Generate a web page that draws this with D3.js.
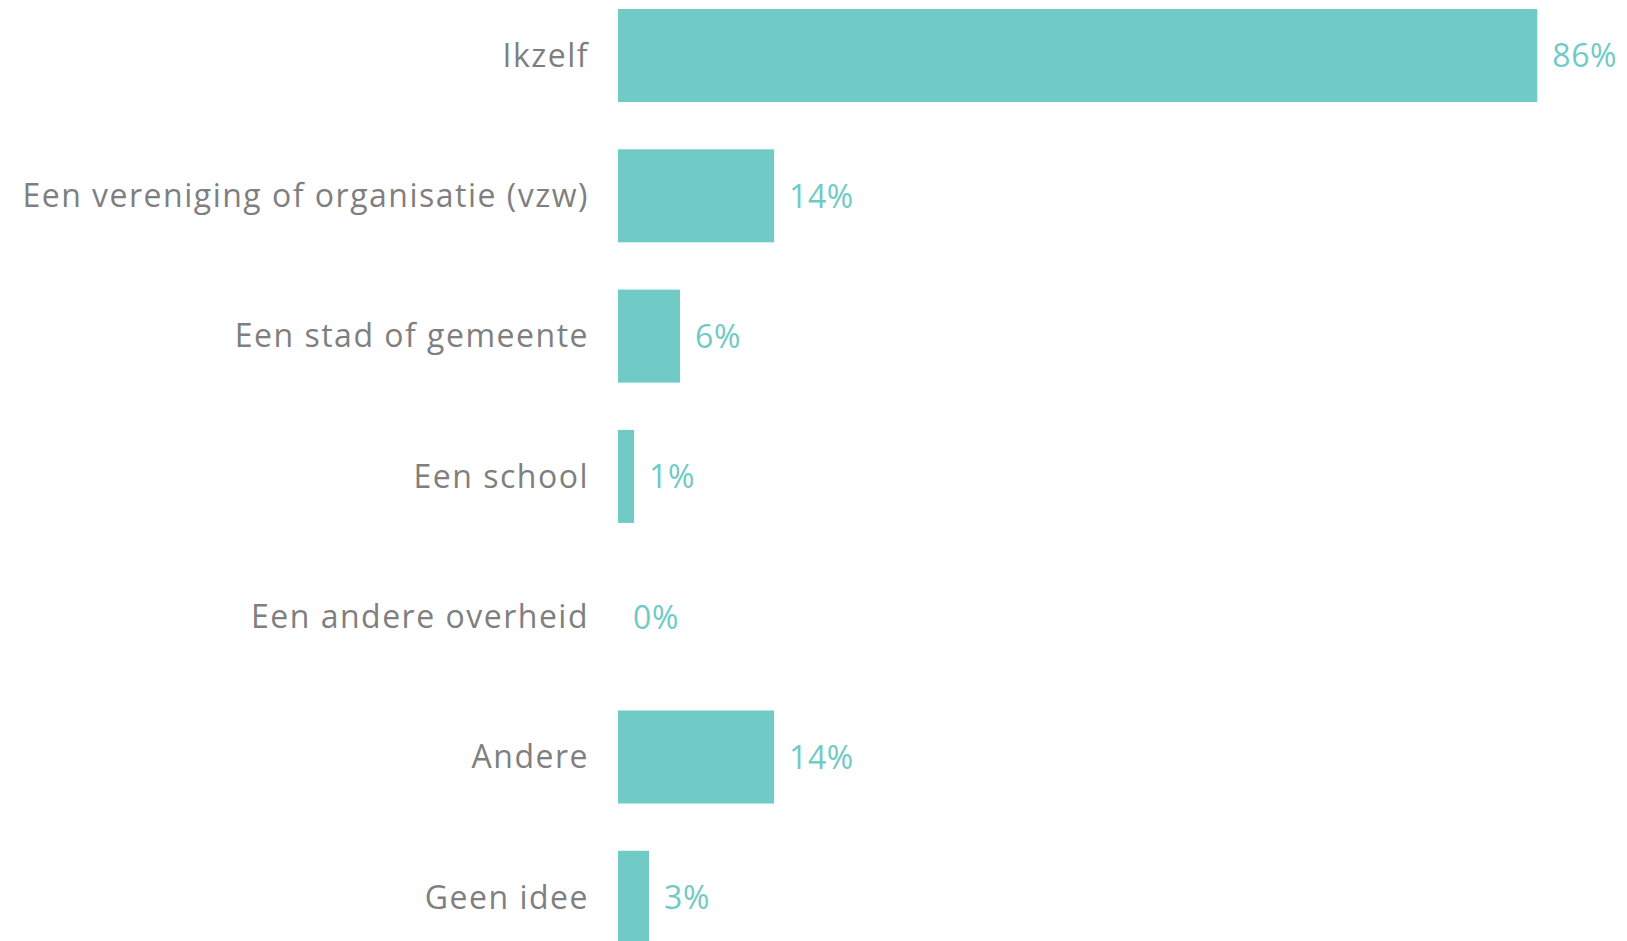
<!DOCTYPE html>
<html><head><meta charset="utf-8">
<script src="https://cdn.jsdelivr.net/npm/d3@7"></script>
<style>body{margin:0;background:#fff;}svg{display:block;}</style>
</head><body>
<svg id="chart" width="1627" height="941"></svg>
<script>
const categories = ["Ikzelf","Een vereniging of organisatie (vzw)","Een stad of gemeente","Een school","Een andere overheid","Andere","Geen idee"];
const values = [86, 14.6, 5.8, 1.5, 0, 14.6, 2.9];
const valueLabels = ["86%","14%","6%","1%","0%","14%","3%"];

const svg = d3.select("#chart");
const x = d3.scaleLinear().domain([0, 86]).range([618, 1537.3]);
const step = 140.3;
const y = d3.scaleBand().domain(categories).range([9 - 0.1685*step, 9 - 0.1685*step + 7*step]).paddingInner(0.337).paddingOuter(0.1685);

const font = "'Open Sans', sans-serif";
const g = svg.append("g");
g.selectAll("rect").data(categories).join("rect")
  .attr("x", x(0)).attr("y", d => y(d))
  .attr("width", (d,i) => x(values[i]) - x(0))
  .attr("height", y.bandwidth())
  .attr("fill", "#70cac6");

g.selectAll("text.cat").data(categories).join("text").attr("class","cat")
  .attr("x", 589).attr("y", d => y(d) + y.bandwidth()/2)
  .attr("dy", "0.35em").attr("text-anchor","end")
  .attr("font-family", font).attr("font-size", 32).attr("letter-spacing", 1.5).attr("fill", "#7f7f7f")
  .text(d => d);

g.selectAll("text.val").data(categories).join("text").attr("class","val")
  .attr("x", (d,i) => x(values[i]) + 15).attr("y", d => y(d) + y.bandwidth()/2)
  .attr("dy", "0.37em")
  .attr("font-family", font).attr("font-size", 32).attr("letter-spacing", 0.6).attr("fill", "#70cac6")
  .text((d,i) => valueLabels[i]);
</script>
</body></html>
